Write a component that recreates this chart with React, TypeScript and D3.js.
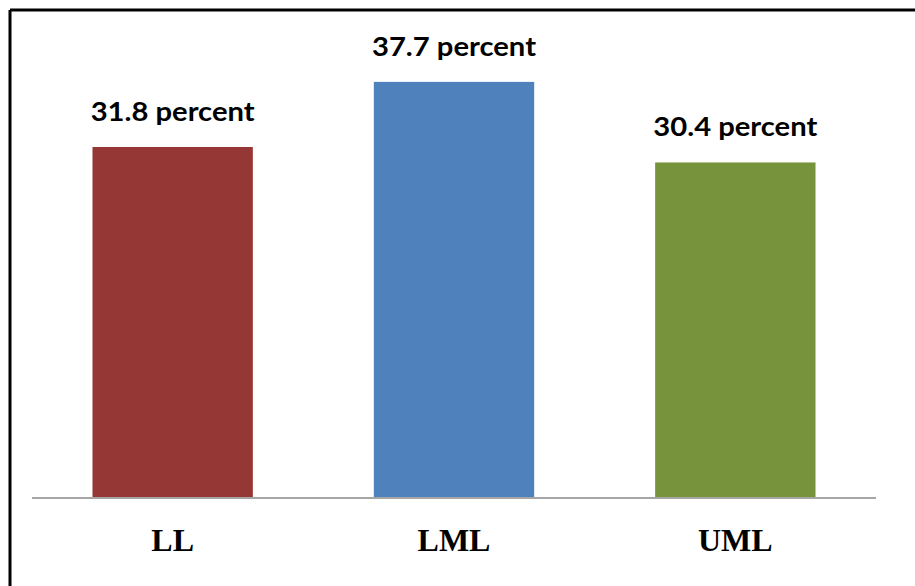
import React from "react";
import * as d3 from "d3";

// Share of respondents per group
const categories: string[] = ["LL", "LML", "UML"];
const values: number[] = [31.8, 37.7, 30.4];
const barColors: string[] = ["#953735", "#4f81bd", "#77933c"];
const valueLabels: string[] = values.map((v) => `${v.toFixed(1)} percent`);

const WIDTH = 915;
const HEIGHT = 586;
const plot = { left: 32, right: 876, top: 56.5, bottom: 498 };

export default function App() {
  const x = d3
    .scaleBand<string>()
    .domain(categories)
    .range([plot.left, plot.right])
    .paddingInner(0.43)
    .paddingOuter(0.215);

  const y = d3.scaleLinear().domain([0, 40]).range([plot.bottom, plot.top]);

  return (
    <svg
      width={WIDTH}
      height={HEIGHT}
      style={{ position: "absolute", left: 0, top: 0, background: "#fff" }}
    >
      <rect x={0} y={0} width={WIDTH} height={HEIGHT} fill="#ffffff" />
      {/* frame: top and left edges */}
      <line x1={10} y1={10} x2={WIDTH} y2={10} stroke="#000" strokeWidth={3} />
      <line x1={10} y1={10} x2={10} y2={HEIGHT} stroke="#000" strokeWidth={3} />

      {categories.map((c, i) => (
        <rect
          key={c}
          x={x(c)!}
          y={y(values[i])}
          width={x.bandwidth()}
          height={plot.bottom - y(values[i])}
          fill={barColors[i]}
        />
      ))}

      {/* baseline */}
      <line
        x1={plot.left}
        x2={plot.right}
        y1={plot.bottom}
        y2={plot.bottom}
        stroke="#a6a6a6"
        strokeWidth={2}
      />

      {categories.map((c, i) => (
        <text
          key={`v-${c}`}
          x={x(c)! + x.bandwidth() / 2}
          y={y(values[i]) - 26}
          textAnchor="middle"
          fontFamily="Lato, 'Open Sans', sans-serif"
          fontWeight={700}
          fontSize={27}
          fill="#000"
          textLength={164}
          lengthAdjust="spacingAndGlyphs"
        >
          {valueLabels[i]}
        </text>
      ))}

      {categories.map((c) => (
        <text
          key={`c-${c}`}
          x={x(c)! + x.bandwidth() / 2}
          y={551}
          textAnchor="middle"
          fontFamily="'Liberation Serif', 'Times New Roman', serif"
          fontWeight={700}
          fontSize={32}
          fill="#000"
        >
          {c}
        </text>
      ))}
    </svg>
  );
}
